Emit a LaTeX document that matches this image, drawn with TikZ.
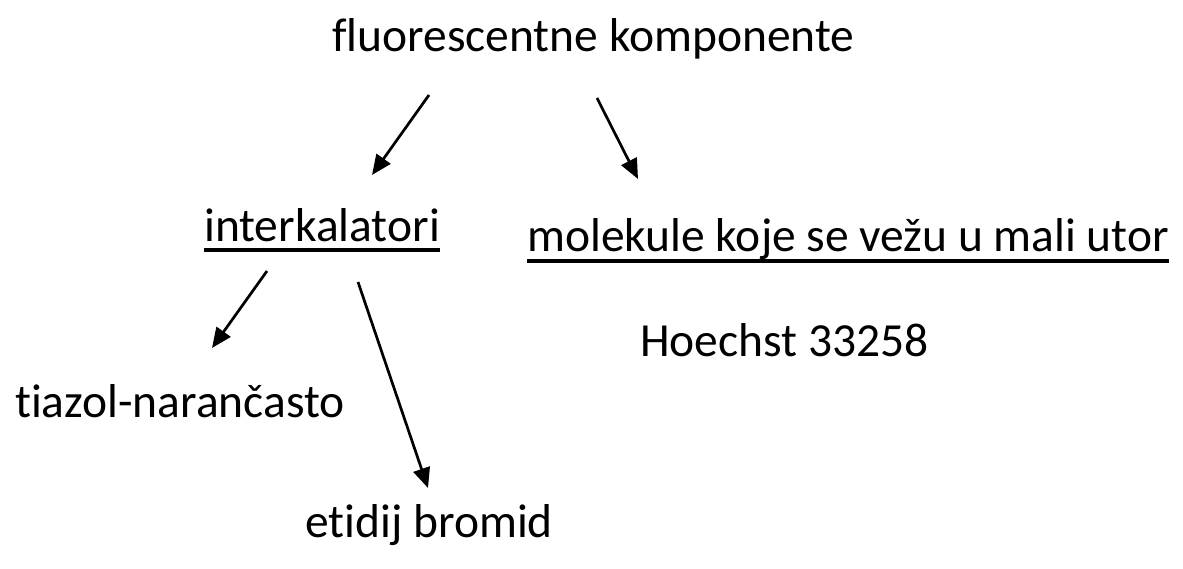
\documentclass[tikz,border=0pt]{standalone}
\usepackage{fontspec}
\setmainfont{Carlito}[Ligatures=NoCommon]
\usetikzlibrary{arrows.meta}
\begin{document}
\begin{tikzpicture}[x=1pt,y=1pt,
  lbl/.style={anchor=base west,inner sep=0pt,font=\fontsize{47.5}{57}\selectfont},
  arr/.style={line width=2.7pt,-{Triangle[length=20pt,width=17pt]}},
  uline/.style={line width=3.2pt}]
\useasboundingbox (0,0) rectangle (1183,568);
\node[lbl] (top) at (332,516) {fluorescentne komponente};
\node[lbl] (inter) at (204,326) {interkalatori};
\node[lbl] (mol) at (527,316) {molekule koje se vežu u mali utor};
\node[lbl] (hoe) at (640,211) {Hoechst 33258};
\node[lbl] (tia) at (15,151) {tiazol-narančasto};
\node[lbl] (eti) at (305,31) {etidij bromid};
\draw[uline] ([yshift=-8pt]inter.base west) -- ([yshift=-8pt]inter.base east);
\draw[uline] ([yshift=-9pt]mol.base west) -- ([yshift=-9pt]mol.base east);
\coordinate (a1s) at (429,473);
\coordinate (a1e) at (372,393);
\coordinate (a2s) at (597,470);
\coordinate (a2e) at (638,389);
\coordinate (a3s) at (267,297);
\coordinate (a3e) at (212,220);
\coordinate (a4s) at (358,286);
\coordinate (a4e) at (428,80);
\draw[arr] (a1s) -- (a1e);
\draw[arr] (a2s) -- (a2e);
\draw[arr] (a3s) -- (a3e);
\draw[arr] (a4s) -- (a4e);
\end{tikzpicture}
\end{document}
